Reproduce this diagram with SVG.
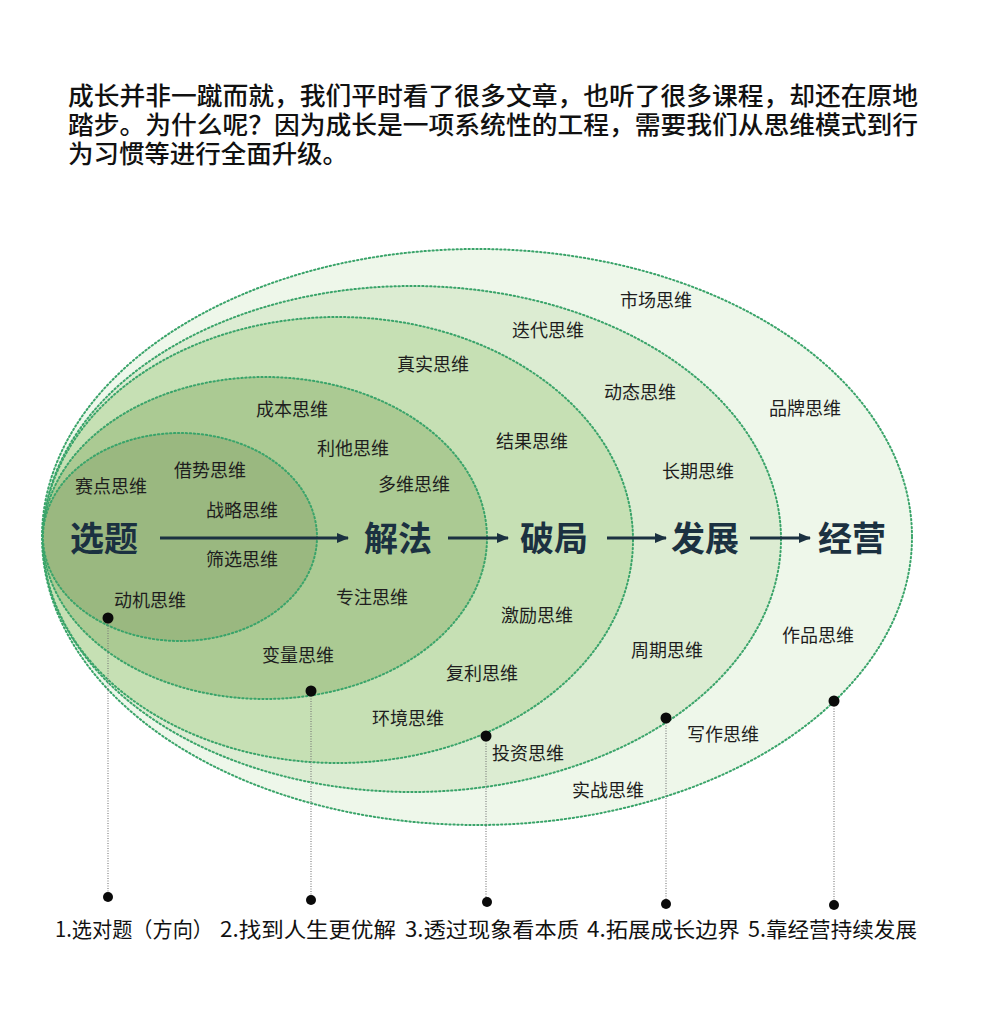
<svg xmlns="http://www.w3.org/2000/svg" width="991" height="1024" viewBox="0 0 991 1024">
<defs>
<style>
.ring{stroke:#3aa46a;stroke-width:2;stroke-dasharray:1.4 2.6;stroke-linecap:round}
.t{font-family:"Liberation Sans","Noto Sans CJK SC",sans-serif;fill:#111;font-size:24.5px;font-weight:500}
.s{font-family:"Noto Sans CJK SC","Noto Sans",sans-serif;font-size:18px;fill:#1e1e1e;text-anchor:middle}
.big{font-family:"Noto Sans CJK SC","Noto Sans",sans-serif;font-size:34px;font-weight:bold;fill:#1b3141;text-anchor:middle}
.b{font-family:"Noto Sans CJK SC","Noto Sans",sans-serif;font-size:21px;fill:#111}
.arr{stroke:#1b3141;stroke-width:3;fill:none}
.lead{stroke:#777777;stroke-width:1.1;stroke-dasharray:1 1.5;fill:none}
.dot{fill:#0a0a0a}
</style>
<marker id="ah" markerWidth="12" markerHeight="10" refX="11" refY="5" orient="auto" markerUnits="userSpaceOnUse">
<path d="M0,0 L12,5 L0,10 Z" fill="#1b3141"/>
</marker>
</defs>
<rect width="991" height="1024" fill="#ffffff"/>
<g id="intro">
<text class="t" x="68" y="105" textLength="850" lengthAdjust="spacingAndGlyphs">成长并非一蹴而就，我们平时看了很多文章，也听了很多课程，却还在原地</text>
<text class="t" x="68" y="134" textLength="850" lengthAdjust="spacingAndGlyphs">踏步。为什么呢？因为成长是一项系统性的工程，需要我们从思维模式到行</text>
<text class="t" x="68" y="163" textLength="280" lengthAdjust="spacingAndGlyphs">为习惯等进行全面升级。</text>
</g>
<g id="ring-jingying"><ellipse class="ring" cx="477" cy="537" rx="435" ry="288" fill="#eef7ea"/></g>
<g id="ring-fazhan"><ellipse class="ring" cx="412" cy="539" rx="369" ry="253" fill="#dcecd2"/></g>
<g id="ring-poju"><ellipse class="ring" cx="338" cy="540" rx="295" ry="223" fill="#c6e0b4"/></g>
<g id="ring-jiefa"><ellipse class="ring" cx="265" cy="538" rx="222" ry="161" fill="#abca93"/></g>
<g id="ring-xuanti"><ellipse class="ring" cx="180" cy="537" rx="137" ry="104" fill="#9ab880"/></g>
<g id="labels">
<text class="s" x="656" y="307">市场思维</text>
<text class="s" x="548" y="337">迭代思维</text>
<text class="s" x="433" y="371">真实思维</text>
<text class="s" x="640" y="399">动态思维</text>
<text class="s" x="805" y="415">品牌思维</text>
<text class="s" x="292" y="416">成本思维</text>
<text class="s" x="353" y="455">利他思维</text>
<text class="s" x="532" y="448">结果思维</text>
<text class="s" x="210" y="477">借势思维</text>
<text class="s" x="698" y="478">长期思维</text>
<text class="s" x="111" y="493">赛点思维</text>
<text class="s" x="414" y="491">多维思维</text>
<text class="s" x="242" y="517">战略思维</text>
<text class="s" x="242" y="566">筛选思维</text>
<text class="s" x="150" y="607">动机思维</text>
<text class="s" x="372" y="604">专注思维</text>
<text class="s" x="537" y="622">激励思维</text>
<text class="s" x="818" y="642">作品思维</text>
<text class="s" x="667" y="657">周期思维</text>
<text class="s" x="298" y="662">变量思维</text>
<text class="s" x="482" y="680">复利思维</text>
<text class="s" x="408" y="725">环境思维</text>
<text class="s" x="723" y="741">写作思维</text>
<text class="s" x="528" y="760">投资思维</text>
<text class="s" x="608" y="797">实战思维</text>
</g>
<g id="stages">
<text class="big" x="104" y="551">选题</text>
<text class="big" x="398" y="551">解法</text>
<text class="big" x="554" y="551">破局</text>
<text class="big" x="705" y="551">发展</text>
<text class="big" x="852" y="551">经营</text>
</g>
<g id="connectors">
<line class="arr" x1="160" y1="538" x2="348" y2="538" marker-end="url(#ah)"/>
<line class="arr" x1="448" y1="538" x2="508" y2="538" marker-end="url(#ah)"/>
<line class="arr" x1="607" y1="538" x2="666" y2="538" marker-end="url(#ah)"/>
<line class="arr" x1="750" y1="538" x2="810" y2="538" marker-end="url(#ah)"/>
<line class="lead" x1="108" y1="618" x2="108" y2="897"/>
<line class="lead" x1="311" y1="691" x2="311" y2="900"/>
<line class="lead" x1="486" y1="736" x2="486" y2="902"/>
<line class="lead" x1="666" y1="718" x2="666" y2="904"/>
<line class="lead" x1="834" y1="701" x2="834" y2="905"/>
<circle class="dot" cx="108" cy="618" r="5.5"/>
<circle class="dot" cx="311" cy="691" r="5.5"/>
<circle class="dot" cx="486" cy="736" r="5.5"/>
<circle class="dot" cx="666" cy="718" r="5.5"/>
<circle class="dot" cx="834" cy="701" r="5.5"/>
<circle class="dot" cx="108" cy="897" r="5"/>
<circle class="dot" cx="311" cy="900" r="5"/>
<circle class="dot" cx="487" cy="902" r="5"/>
<circle class="dot" cx="666" cy="904" r="5"/>
<circle class="dot" cx="834" cy="905" r="5"/>
</g>
<g id="outcomes">
<text class="b" x="55" y="937" textLength="158" lengthAdjust="spacingAndGlyphs">1.选对题（方向）</text>
<text class="b" x="220" y="937" textLength="176" lengthAdjust="spacingAndGlyphs">2.找到人生更优解</text>
<text class="b" x="405" y="937" textLength="174" lengthAdjust="spacingAndGlyphs">3.透过现象看本质</text>
<text class="b" x="587" y="937" textLength="153" lengthAdjust="spacingAndGlyphs">4.拓展成长边界</text>
<text class="b" x="748" y="937" textLength="169" lengthAdjust="spacingAndGlyphs">5.靠经营持续发展</text>
</g>
</svg>
